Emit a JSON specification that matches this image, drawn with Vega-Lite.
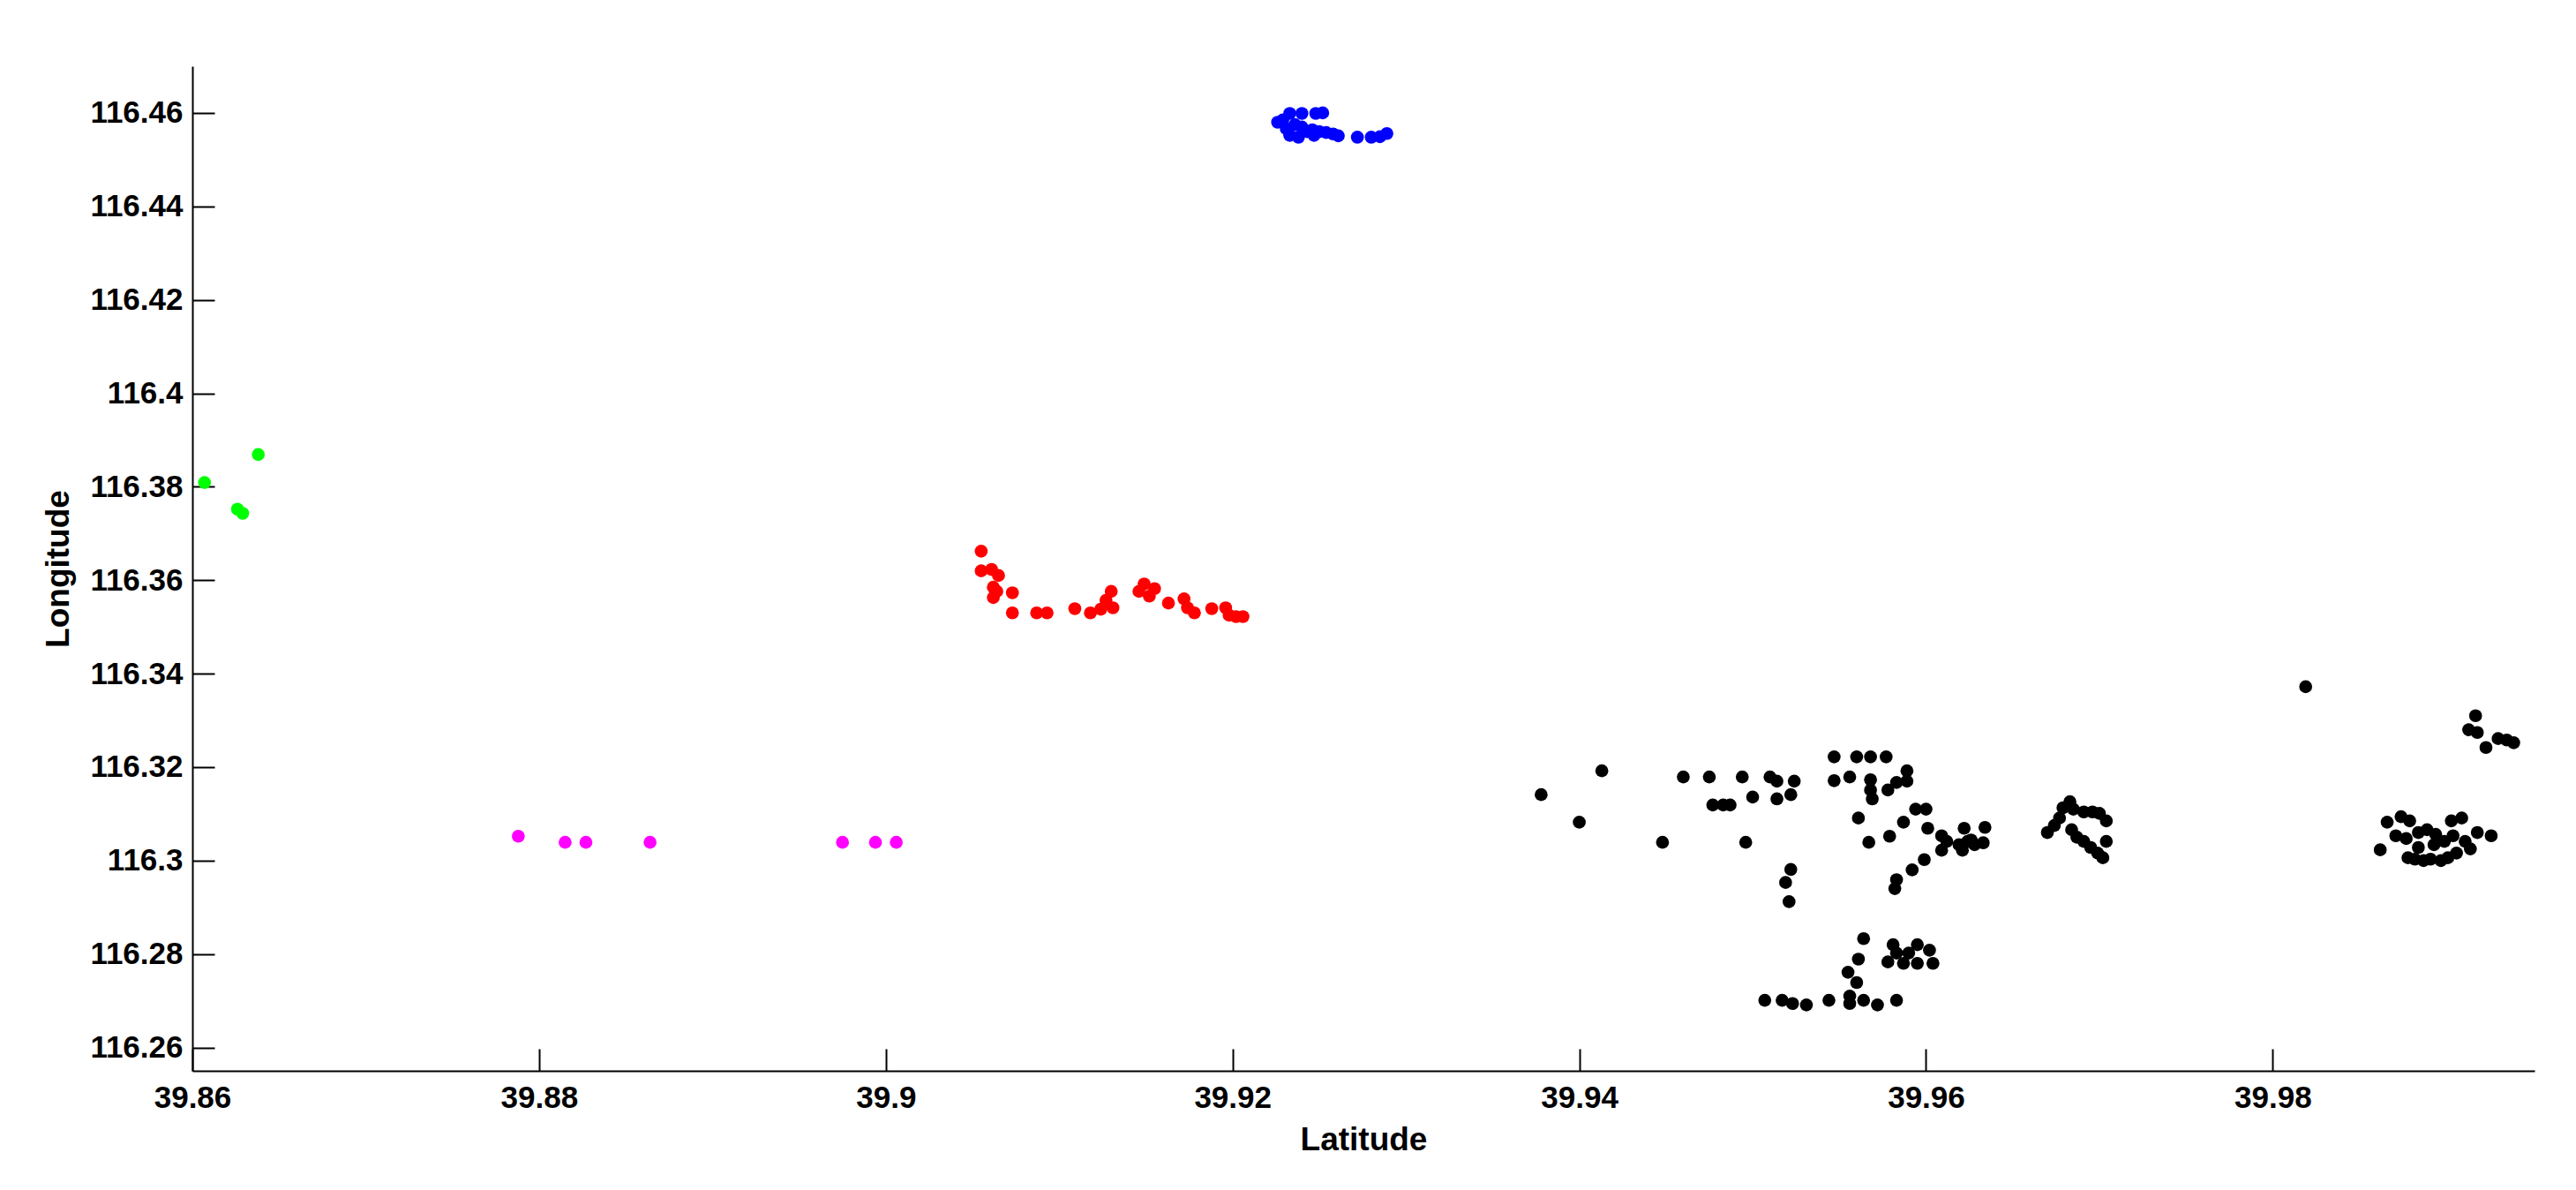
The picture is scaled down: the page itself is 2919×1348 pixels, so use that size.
{
  "$schema": "https://vega.github.io/schema/vega-lite/v6.json",
  "autosize": "none",
  "width": 2654,
  "height": 1138,
  "padding": {"left": 218, "top": 75, "right": 47, "bottom": 135},
  "background": "white",
  "config": {
    "view": {"stroke": null},
    "font": "Liberation Sans",
    "axis": {
      "domainColor": "black",
      "domainWidth": 2,
      "tickColor": "black",
      "tickWidth": 2,
      "tickSize": -25,
      "labelColor": "black",
      "labelFont": "Liberation Sans",
      "labelFontSize": 35,
      "labelFontWeight": "bold",
      "titleFont": "Liberation Sans",
      "titleFontSize": 37,
      "titleFontWeight": "bold",
      "titleColor": "black",
      "grid": false
    }
  },
  "data": {
    "values": [
      {"lat": 39.8607, "lon": 116.3809, "c": "g"},
      {"lat": 39.8638, "lon": 116.3869, "c": "g"},
      {"lat": 39.8626, "lon": 116.3752, "c": "g"},
      {"lat": 39.8629, "lon": 116.3743, "c": "g"},
      {"lat": 39.8788, "lon": 116.3052, "c": "m"},
      {"lat": 39.8815, "lon": 116.3039, "c": "m"},
      {"lat": 39.8827, "lon": 116.3039, "c": "m"},
      {"lat": 39.8864, "lon": 116.3039, "c": "m"},
      {"lat": 39.8975, "lon": 116.3039, "c": "m"},
      {"lat": 39.8994, "lon": 116.3039, "c": "m"},
      {"lat": 39.9006, "lon": 116.3039, "c": "m"},
      {"lat": 39.9055, "lon": 116.3662, "c": "r"},
      {"lat": 39.9055, "lon": 116.3620, "c": "r"},
      {"lat": 39.9061, "lon": 116.3623, "c": "r"},
      {"lat": 39.9065, "lon": 116.3610, "c": "r"},
      {"lat": 39.9062, "lon": 116.3585, "c": "r"},
      {"lat": 39.9062, "lon": 116.3563, "c": "r"},
      {"lat": 39.9064, "lon": 116.3576, "c": "r"},
      {"lat": 39.9073, "lon": 116.3573, "c": "r"},
      {"lat": 39.9073, "lon": 116.3530, "c": "r"},
      {"lat": 39.9087, "lon": 116.3530, "c": "r"},
      {"lat": 39.9093, "lon": 116.3530, "c": "r"},
      {"lat": 39.9109, "lon": 116.3539, "c": "r"},
      {"lat": 39.9118, "lon": 116.3530, "c": "r"},
      {"lat": 39.9124, "lon": 116.3538, "c": "r"},
      {"lat": 39.9127, "lon": 116.3557, "c": "r"},
      {"lat": 39.9130, "lon": 116.3576, "c": "r"},
      {"lat": 39.9131, "lon": 116.3541, "c": "r"},
      {"lat": 39.9146, "lon": 116.3576, "c": "r"},
      {"lat": 39.9149, "lon": 116.3592, "c": "r"},
      {"lat": 39.9152, "lon": 116.3566, "c": "r"},
      {"lat": 39.9155, "lon": 116.3582, "c": "r"},
      {"lat": 39.9163, "lon": 116.3551, "c": "r"},
      {"lat": 39.9172, "lon": 116.3560, "c": "r"},
      {"lat": 39.9174, "lon": 116.3541, "c": "r"},
      {"lat": 39.9178, "lon": 116.3530, "c": "r"},
      {"lat": 39.9188, "lon": 116.3539, "c": "r"},
      {"lat": 39.9196, "lon": 116.3541, "c": "r"},
      {"lat": 39.9198, "lon": 116.3525, "c": "r"},
      {"lat": 39.9202, "lon": 116.3522, "c": "r"},
      {"lat": 39.9206, "lon": 116.3522, "c": "r"},
      {"lat": 39.9226, "lon": 116.4580, "c": "b"},
      {"lat": 39.9229, "lon": 116.4585, "c": "b"},
      {"lat": 39.9231, "lon": 116.4566, "c": "b"},
      {"lat": 39.9233, "lon": 116.4599, "c": "b"},
      {"lat": 39.9233, "lon": 116.4552, "c": "b"},
      {"lat": 39.9236, "lon": 116.4575, "c": "b"},
      {"lat": 39.9238, "lon": 116.4548, "c": "b"},
      {"lat": 39.9240, "lon": 116.4599, "c": "b"},
      {"lat": 39.9240, "lon": 116.4570, "c": "b"},
      {"lat": 39.9243, "lon": 116.4560, "c": "b"},
      {"lat": 39.9246, "lon": 116.4564, "c": "b"},
      {"lat": 39.9247, "lon": 116.4552, "c": "b"},
      {"lat": 39.9248, "lon": 116.4599, "c": "b"},
      {"lat": 39.9252, "lon": 116.4600, "c": "b"},
      {"lat": 39.9250, "lon": 116.4560, "c": "b"},
      {"lat": 39.9254, "lon": 116.4558, "c": "b"},
      {"lat": 39.9258, "lon": 116.4555, "c": "b"},
      {"lat": 39.9261, "lon": 116.4551, "c": "b"},
      {"lat": 39.9272, "lon": 116.4548, "c": "b"},
      {"lat": 39.9280, "lon": 116.4548, "c": "b"},
      {"lat": 39.9285, "lon": 116.4549, "c": "b"},
      {"lat": 39.9289, "lon": 116.4556, "c": "b"},
      {"lat": 39.9378, "lon": 116.3141, "c": "k"},
      {"lat": 39.9413, "lon": 116.3192, "c": "k"},
      {"lat": 39.9400, "lon": 116.3082, "c": "k"},
      {"lat": 39.9448, "lon": 116.3039, "c": "k"},
      {"lat": 39.9460, "lon": 116.3179, "c": "k"},
      {"lat": 39.9475, "lon": 116.3179, "c": "k"},
      {"lat": 39.9494, "lon": 116.3179, "c": "k"},
      {"lat": 39.9510, "lon": 116.3179, "c": "k"},
      {"lat": 39.9514, "lon": 116.3170, "c": "k"},
      {"lat": 39.9524, "lon": 116.3170, "c": "k"},
      {"lat": 39.9522, "lon": 116.3141, "c": "k"},
      {"lat": 39.9500, "lon": 116.3136, "c": "k"},
      {"lat": 39.9514, "lon": 116.3132, "c": "k"},
      {"lat": 39.9477, "lon": 116.3119, "c": "k"},
      {"lat": 39.9483, "lon": 116.3119, "c": "k"},
      {"lat": 39.9487, "lon": 116.3119, "c": "k"},
      {"lat": 39.9496, "lon": 116.3039, "c": "k"},
      {"lat": 39.9547, "lon": 116.3222, "c": "k"},
      {"lat": 39.9560, "lon": 116.3222, "c": "k"},
      {"lat": 39.9568, "lon": 116.3222, "c": "k"},
      {"lat": 39.9577, "lon": 116.3222, "c": "k"},
      {"lat": 39.9547, "lon": 116.3171, "c": "k"},
      {"lat": 39.9556, "lon": 116.3179, "c": "k"},
      {"lat": 39.9568, "lon": 116.3173, "c": "k"},
      {"lat": 39.9568, "lon": 116.3151, "c": "k"},
      {"lat": 39.9569, "lon": 116.3132, "c": "k"},
      {"lat": 39.9578, "lon": 116.3151, "c": "k"},
      {"lat": 39.9583, "lon": 116.3167, "c": "k"},
      {"lat": 39.9589, "lon": 116.3192, "c": "k"},
      {"lat": 39.9589, "lon": 116.3170, "c": "k"},
      {"lat": 39.9561, "lon": 116.3091, "c": "k"},
      {"lat": 39.9567, "lon": 116.3039, "c": "k"},
      {"lat": 39.9579, "lon": 116.3052, "c": "k"},
      {"lat": 39.9587, "lon": 116.3082, "c": "k"},
      {"lat": 39.9594, "lon": 116.3110, "c": "k"},
      {"lat": 39.9600, "lon": 116.3110, "c": "k"},
      {"lat": 39.9601, "lon": 116.3069, "c": "k"},
      {"lat": 39.9609, "lon": 116.3053, "c": "k"},
      {"lat": 39.9612, "lon": 116.3041, "c": "k"},
      {"lat": 39.9619, "lon": 116.3034, "c": "k"},
      {"lat": 39.9622, "lon": 116.3069, "c": "k"},
      {"lat": 39.9624, "lon": 116.3041, "c": "k"},
      {"lat": 39.9609, "lon": 116.3022, "c": "k"},
      {"lat": 39.9621, "lon": 116.3022, "c": "k"},
      {"lat": 39.9626, "lon": 116.3044, "c": "k"},
      {"lat": 39.9628, "lon": 116.3034, "c": "k"},
      {"lat": 39.9633, "lon": 116.3038, "c": "k"},
      {"lat": 39.9634, "lon": 116.3071, "c": "k"},
      {"lat": 39.9599, "lon": 116.3002, "c": "k"},
      {"lat": 39.9592, "lon": 116.2980, "c": "k"},
      {"lat": 39.9583, "lon": 116.2959, "c": "k"},
      {"lat": 39.9582, "lon": 116.2940, "c": "k"},
      {"lat": 39.9522, "lon": 116.2981, "c": "k"},
      {"lat": 39.9519, "lon": 116.2953, "c": "k"},
      {"lat": 39.9521, "lon": 116.2912, "c": "k"},
      {"lat": 39.9564, "lon": 116.2833, "c": "k"},
      {"lat": 39.9561, "lon": 116.2789, "c": "k"},
      {"lat": 39.9555, "lon": 116.2761, "c": "k"},
      {"lat": 39.9560, "lon": 116.2739, "c": "k"},
      {"lat": 39.9581, "lon": 116.2820, "c": "k"},
      {"lat": 39.9583, "lon": 116.2802, "c": "k"},
      {"lat": 39.9595, "lon": 116.2820, "c": "k"},
      {"lat": 39.9602, "lon": 116.2808, "c": "k"},
      {"lat": 39.9578, "lon": 116.2783, "c": "k"},
      {"lat": 39.9587, "lon": 116.2780, "c": "k"},
      {"lat": 39.9595, "lon": 116.2780, "c": "k"},
      {"lat": 39.9604, "lon": 116.2780, "c": "k"},
      {"lat": 39.9590, "lon": 116.2802, "c": "k"},
      {"lat": 39.9507, "lon": 116.2701, "c": "k"},
      {"lat": 39.9517, "lon": 116.2701, "c": "k"},
      {"lat": 39.9523, "lon": 116.2694, "c": "k"},
      {"lat": 39.9531, "lon": 116.2691, "c": "k"},
      {"lat": 39.9544, "lon": 116.2701, "c": "k"},
      {"lat": 39.9556, "lon": 116.2710, "c": "k"},
      {"lat": 39.9556, "lon": 116.2694, "c": "k"},
      {"lat": 39.9564, "lon": 116.2701, "c": "k"},
      {"lat": 39.9572, "lon": 116.2691, "c": "k"},
      {"lat": 39.9583, "lon": 116.2701, "c": "k"},
      {"lat": 39.9670, "lon": 116.3060, "c": "k"},
      {"lat": 39.9674, "lon": 116.3075, "c": "k"},
      {"lat": 39.9677, "lon": 116.3091, "c": "k"},
      {"lat": 39.9679, "lon": 116.3113, "c": "k"},
      {"lat": 39.9683, "lon": 116.3126, "c": "k"},
      {"lat": 39.9685, "lon": 116.3110, "c": "k"},
      {"lat": 39.9691, "lon": 116.3104, "c": "k"},
      {"lat": 39.9696, "lon": 116.3104, "c": "k"},
      {"lat": 39.9700, "lon": 116.3101, "c": "k"},
      {"lat": 39.9704, "lon": 116.3085, "c": "k"},
      {"lat": 39.9684, "lon": 116.3066, "c": "k"},
      {"lat": 39.9687, "lon": 116.3050, "c": "k"},
      {"lat": 39.9691, "lon": 116.3041, "c": "k"},
      {"lat": 39.9695, "lon": 116.3028, "c": "k"},
      {"lat": 39.9699, "lon": 116.3016, "c": "k"},
      {"lat": 39.9702, "lon": 116.3006, "c": "k"},
      {"lat": 39.9704, "lon": 116.3041, "c": "k"},
      {"lat": 39.9819, "lon": 116.3372, "c": "k"},
      {"lat": 39.9917, "lon": 116.3310, "c": "k"},
      {"lat": 39.9913, "lon": 116.3280, "c": "k"},
      {"lat": 39.9918, "lon": 116.3274, "c": "k"},
      {"lat": 39.9923, "lon": 116.3242, "c": "k"},
      {"lat": 39.9930, "lon": 116.3261, "c": "k"},
      {"lat": 39.9935, "lon": 116.3258, "c": "k"},
      {"lat": 39.9939, "lon": 116.3252, "c": "k"},
      {"lat": 39.9866, "lon": 116.3082, "c": "k"},
      {"lat": 39.9874, "lon": 116.3094, "c": "k"},
      {"lat": 39.9879, "lon": 116.3085, "c": "k"},
      {"lat": 39.9871, "lon": 116.3053, "c": "k"},
      {"lat": 39.9862, "lon": 116.3023, "c": "k"},
      {"lat": 39.9878, "lon": 116.3006, "c": "k"},
      {"lat": 39.9882, "lon": 116.3003, "c": "k"},
      {"lat": 39.9887, "lon": 116.3000, "c": "k"},
      {"lat": 39.9891, "lon": 116.3003, "c": "k"},
      {"lat": 39.9897, "lon": 116.3000, "c": "k"},
      {"lat": 39.9901, "lon": 116.3006, "c": "k"},
      {"lat": 39.9877, "lon": 116.3047, "c": "k"},
      {"lat": 39.9884, "lon": 116.3060, "c": "k"},
      {"lat": 39.9889, "lon": 116.3066, "c": "k"},
      {"lat": 39.9894, "lon": 116.3056, "c": "k"},
      {"lat": 39.9884, "lon": 116.3028, "c": "k"},
      {"lat": 39.9893, "lon": 116.3034, "c": "k"},
      {"lat": 39.9903, "lon": 116.3085, "c": "k"},
      {"lat": 39.9909, "lon": 116.3091, "c": "k"},
      {"lat": 39.9904, "lon": 116.3053, "c": "k"},
      {"lat": 39.9911, "lon": 116.3041, "c": "k"},
      {"lat": 39.9918, "lon": 116.3060, "c": "k"},
      {"lat": 39.9914, "lon": 116.3025, "c": "k"},
      {"lat": 39.9906, "lon": 116.3016, "c": "k"},
      {"lat": 39.9926, "lon": 116.3053, "c": "k"},
      {"lat": 39.9899, "lon": 116.3041, "c": "k"}
    ]
  },
  "mark": {"type": "point", "filled": true, "shape": "circle", "size": 215, "opacity": 1, "strokeWidth": 0},
  "encoding": {
    "x": {
      "field": "lat", "type": "quantitative",
      "scale": {"domain": [39.86, 39.9951], "nice": false, "zero": false},
      "axis": {
        "title": "Latitude",
        "values": [39.86, 39.88, 39.9, 39.92, 39.94, 39.96, 39.98],
        "format": "~g",
        "labelPadding": 38,
        "labelFlush": false,
        "titlePadding": 12
      }
    },
    "y": {
      "field": "lon", "type": "quantitative",
      "scale": {"domain": [116.255, 116.47], "nice": false, "zero": false},
      "axis": {
        "title": "Longitude",
        "values": [116.26, 116.28, 116.3, 116.32, 116.34, 116.36, 116.38, 116.4, 116.42, 116.44, 116.46],
        "format": "~g",
        "labelPadding": 36,
        "titlePadding": 16
      }
    },
    "color": {
      "field": "c", "type": "nominal",
      "scale": {"domain": ["g", "m", "r", "b", "k"], "range": ["#00ff00", "#ff00ff", "#ff0000", "#0000ff", "#000000"]},
      "legend": null
    }
  }
}
